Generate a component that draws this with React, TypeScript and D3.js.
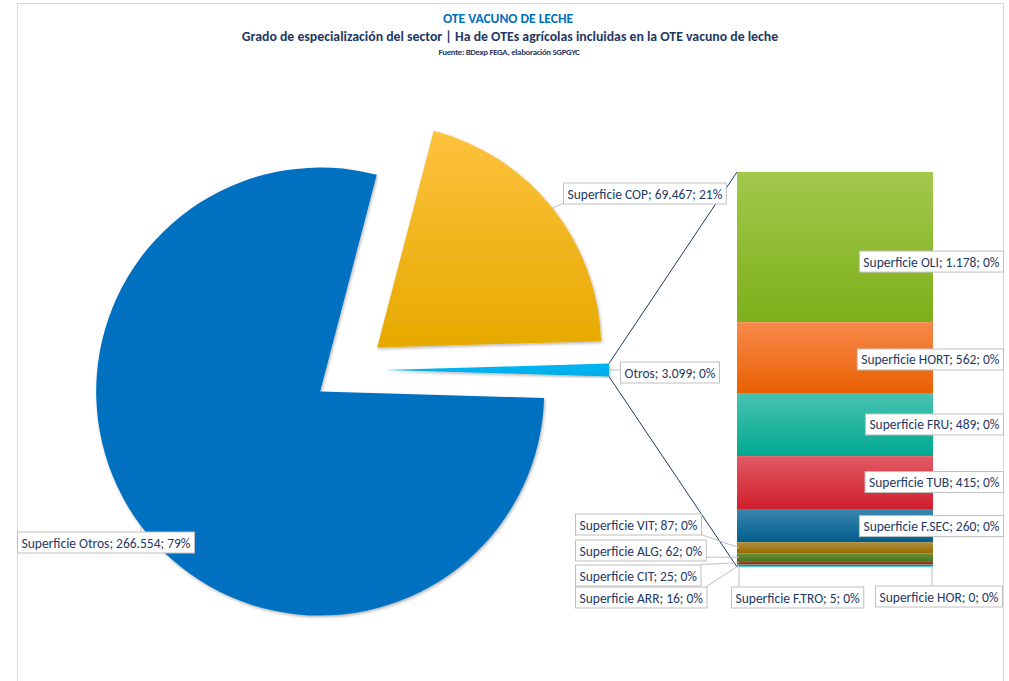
import React, { useEffect, useRef } from "react";
import * as d3 from "d3";

// ---------- data ----------
const pieNames = ["Superficie COP", "Otros", "Superficie Otros"];
const pieValues = [69467, 3099, 266554];
const piePct = ["21%", "0%", "79%"];
const pieColorsTop = ["#fdc23e", "#00b4f2", "#0070c0"];
const pieColorsBottom = ["#e6a900", "#00aee8", "#0070c0"];

const barNames = [
  "Superficie OLI", "Superficie HORT", "Superficie FRU", "Superficie TUB", "Superficie F.SEC",
  "Superficie VIT", "Superficie ALG", "Superficie CIT", "Superficie ARR", "Superficie F.TRO", "Superficie HOR",
];
const barValues = [1178, 562, 489, 415, 260, 87, 62, 25, 16, 5, 0];
const barPct = ["0%", "0%", "0%", "0%", "0%", "0%", "0%", "0%", "0%", "0%", "0%"];
const barColorsTop = ["#a2c84c", "#f8894c", "#48c3b0", "#e15a64", "#3c86af", "#ae8f3f", "#6a913c", "#a8402c", "#6f7f55", "#c8302e", "#55c4f2"];
const barColorsBottom = ["#7cb01a", "#e86000", "#00a88f", "#d01f2c", "#005e8c", "#996b00", "#4b7420", "#8f2a18", "#5a6a40", "#b81d20", "#2bb5ee"];

const titleText = "OTE VACUNO DE LECHE";
const subtitleText = "Grado de especialización del sector | Ha de OTEs agrícolas incluidas en la OTE vacuno de leche";
const sourceText = "Fuente: BDexp FEGA, elaboración SGPGYC";

// ---------- layout ----------
const W = 1009, H = 681;
const PIE_CX = 349, PIE_CY = 370, PIE_R = 224, EXPLODE = 36;
const BAR_X0 = 737, BAR_X1 = 933, BAR_Y0 = 172, BAR_Y1 = 567;
// label box [left x, center y] for pie labels
const pieLabelPos: [number, number][] = [[563, 193], [620, 372], [17, 542]];
// small bar labels [left x, center y] (null = auto, right-aligned inside bar)
const barLabelPos: ([number, number] | null)[] = [
  null, null, null, null, null,
  [575, 524], [575, 550], [575, 575], [575, 597], [731, 597], [875, 596],
];
const barLabelDy = [14, 1, -1, -1, 0, 0, 0, 0, 0, 0, 0];
const barLabelRight = 1003;
const FONT = "Carlito, Calibri, Lato, 'Open Sans', sans-serif";
const LABEL_SIZE = 13.5;

const esLocale = d3.formatLocale({ decimal: ",", thousands: ".", grouping: [3], currency: ["", "€"] });
const fmt = esLocale.format(",d");

export default function App() {
  const ref = useRef<SVGSVGElement | null>(null);

  useEffect(() => {
    const svg = d3.select(ref.current);
    svg.selectAll("*").remove();
    const defs = svg.append("defs");

    const mkGrad = (id: string, top: string, bottom: string) => {
      const g = defs.append("linearGradient").attr("id", id).attr("x1", 0).attr("y1", 0).attr("x2", 0).attr("y2", 1);
      g.append("stop").attr("offset", "0%").attr("stop-color", top);
      g.append("stop").attr("offset", "100%").attr("stop-color", bottom);
    };
    pieValues.forEach((_, i) => mkGrad("pg" + i, pieColorsTop[i], pieColorsBottom[i]));
    barValues.forEach((_, i) => mkGrad("bg" + i, barColorsTop[i], barColorsBottom[i]));

    const filt = defs.append("filter").attr("id", "shadow").attr("x", "-10%").attr("y", "-10%").attr("width", "120%").attr("height", "120%");
    filt.append("feDropShadow").attr("dx", 1).attr("dy", 1.5).attr("stdDeviation", 1.5).attr("flood-color", "#000").attr("flood-opacity", 0.3);

    svg.append("rect").attr("width", W).attr("height", H).attr("fill", "#fff");
    svg.append("rect").attr("x", 17.5).attr("y", 3.5).attr("width", 986).attr("height", 720)
      .attr("fill", "none").attr("stroke", "#d9d9d9").attr("stroke-width", 1);

    // titles
    svg.append("text").attr("x", 508).attr("y", 23).attr("text-anchor", "middle")
      .attr("font-family", FONT).attr("font-weight", "bold").attr("font-size", 13.5).attr("fill", "#0070c0").text(titleText);
    svg.append("text").attr("x", 510).attr("y", 41).attr("text-anchor", "middle")
      .attr("font-family", FONT).attr("font-weight", "bold").attr("font-size", 13.8).attr("fill", "#1f3864").text(subtitleText);
    svg.append("text").attr("x", 509).attr("y", 55).attr("text-anchor", "middle")
      .attr("font-family", FONT).attr("font-weight", "bold").attr("font-size", 8.8).attr("letter-spacing", -0.3).attr("fill", "#1f3864").text(sourceText);

    // pie
    const total = d3.sum(pieValues);
    const startAngle = Math.PI / 2 - 2 * Math.PI * (pieValues[0] + pieValues[1] / 2) / total;
    const pie = d3.pie<number>().sort(null).value((d) => d).startAngle(startAngle).endAngle(startAngle + 2 * Math.PI);
    const arcs = pie(pieValues);
    const arc = d3.arc<d3.PieArcDatum<number>>().innerRadius(0).outerRadius(PIE_R);
    const centers = arcs.map((a) => {
      const m = (a.startAngle + a.endAngle) / 2;
      return [PIE_CX + EXPLODE * Math.sin(m), PIE_CY - EXPLODE * Math.cos(m)];
    });

    const gPie = svg.append("g");
    arcs.forEach((a, i) => {
      gPie.append("path").attr("d", arc(a) as string)
        .attr("transform", `translate(${centers[i][0]},${centers[i][1]})`)
        .attr("fill", `url(#pg${i})`).attr("filter", "url(#shadow)");
    });

    // bar
    const barTotal = d3.sum(barValues);
    const y = d3.scaleLinear().domain([0, barTotal]).range([BAR_Y0, BAR_Y1]);
    const cum = [0, ...Array.from(d3.cumsum(barValues))];
    const gBar = svg.append("g");
    barValues.forEach((v, i) => {
      const y0 = y(cum[i]), y1 = y(cum[i + 1]);
      gBar.append("rect").attr("x", BAR_X0).attr("y", y0).attr("width", BAR_X1 - BAR_X0)
        .attr("height", Math.max(0, y1 - y0)).attr("fill", `url(#bg${i})`);
    });
    gBar.append("rect").attr("x", BAR_X0).attr("y", BAR_Y1 - 1).attr("width", BAR_X1 - BAR_X0).attr("height", 1.2)
      .attr("fill", barColorsTop[barColorsTop.length - 1]);

    // connector lines from small slice to bar
    const small = arcs[1];
    const sc = centers[1];
    const pTop = [sc[0] + PIE_R * Math.sin(small.startAngle), sc[1] - PIE_R * Math.cos(small.startAngle)];
    const pBot = [sc[0] + PIE_R * Math.sin(small.endAngle), sc[1] - PIE_R * Math.cos(small.endAngle)];
    svg.append("line").attr("x1", pTop[0]).attr("y1", pTop[1]).attr("x2", BAR_X0).attr("y2", BAR_Y0)
      .attr("stroke", "#203864").attr("stroke-width", 1);
    svg.append("line").attr("x1", pBot[0]).attr("y1", pBot[1]).attr("x2", BAR_X0).attr("y2", BAR_Y1)
      .attr("stroke", "#203864").attr("stroke-width", 1);

    const gLead = svg.append("g");
    const gLab = svg.append("g");
    const makeLabel = (text: string, x: number, cy: number, anchorRight: boolean) => {
      const g = gLab.append("g");
      const t = g.append("text").attr("font-family", FONT).attr("font-size", LABEL_SIZE).attr("fill", "#1f3864")
        .attr("dominant-baseline", "central").text(text);
      const w = (t.node() as SVGTextElement).getComputedTextLength() + 8;
      const h = 21;
      const left = anchorRight ? x - w : x;
      g.insert("rect", "text").attr("x", left + 0.5).attr("y", cy - h / 2 + 0.5).attr("width", w).attr("height", h)
        .attr("fill", "#fff").attr("stroke", "#bfbfbf").attr("stroke-width", 1);
      t.attr("x", left + 4.5).attr("y", cy + 1);
      return { left, top: cy - h / 2, w, h };
    };
    const leader = (box: { left: number; top: number; w: number; h: number }, tx: number, ty: number) => {
      const px = Math.max(box.left, Math.min(tx, box.left + box.w));
      const py = Math.max(box.top, Math.min(ty, box.top + box.h));
      gLead.append("line").attr("x1", px).attr("y1", py).attr("x2", tx).attr("y2", ty)
        .attr("stroke", "#bfbfbf").attr("stroke-width", 1);
    };

    arcs.forEach((a, i) => {
      const text = `${pieNames[i]}; ${fmt(pieValues[i])}; ${piePct[i]}`;
      const [lx, ly] = pieLabelPos[i];
      const box = makeLabel(text, lx, ly, false);
      const m = (a.startAngle + a.endAngle) / 2;
      const ex = centers[i][0] + PIE_R * Math.sin(m);
      const ey = centers[i][1] - PIE_R * Math.cos(m);
      leader(box, ex, ey);
    });

    barValues.forEach((v, i) => {
      const text = `${barNames[i]}; ${fmt(v)}; ${barPct[i]}`;
      const midY = (y(cum[i]) + y(cum[i + 1])) / 2;
      const pos = barLabelPos[i];
      if (!pos) {
        makeLabel(text, barLabelRight, midY + barLabelDy[i], true);
      } else {
        const box = makeLabel(text, pos[0], pos[1], false);
        const tx = i === barValues.length - 1 ? BAR_X1 - 1 : BAR_X0 + 2;
        leader(box, tx, midY);
      }
    });
  }, []);

  return (
    <svg ref={ref} width={W} height={H} style={{ position: "absolute", left: 0, top: 0, display: "block" }} />
  );
}
